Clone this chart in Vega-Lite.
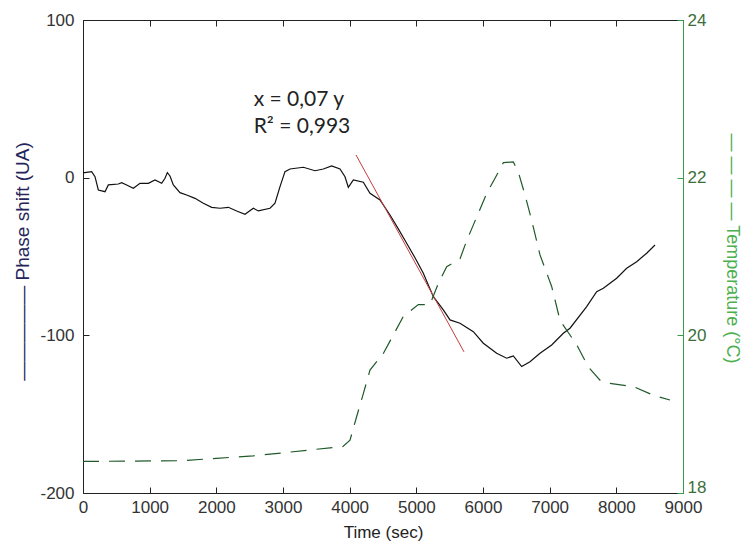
{
  "$schema": "https://vega.github.io/schema/vega-lite/v6.json",
  "width": 600,
  "height": 473,
  "autosize": "none",
  "padding": {"left": 83, "top": 20, "right": 58, "bottom": 50},
  "background": "white",
  "config": {
    "view": {"stroke": "#222222", "strokeWidth": 1},
    "axis": {
      "grid": false,
      "labelFont": "Liberation Sans",
      "titleFont": "Liberation Sans",
      "titleFontWeight": "normal",
      "labelFlush": false,
      "labelOverlap": false,
      "domainWidth": 1,
      "tickWidth": 1
    }
  },
  "datasets": {
    "phase": [
      {"t": 0, "p": 3}, {"t": 130, "p": 3.8}, {"t": 180, "p": 0.6}, {"t": 230, "p": -7.8},
      {"t": 330, "p": -8.9}, {"t": 380, "p": -4.6}, {"t": 530, "p": -4.0}, {"t": 580, "p": -3.2},
      {"t": 655, "p": -4.6}, {"t": 755, "p": -6.7}, {"t": 855, "p": -3.6}, {"t": 980, "p": -3.6},
      {"t": 1080, "p": -1.5}, {"t": 1180, "p": -3.6}, {"t": 1230, "p": -0.4}, {"t": 1265, "p": 3.2},
      {"t": 1305, "p": 1.1}, {"t": 1355, "p": -4.6}, {"t": 1455, "p": -9.5}, {"t": 1555, "p": -11},
      {"t": 1680, "p": -13.1}, {"t": 1805, "p": -16.2}, {"t": 1930, "p": -18.8}, {"t": 2055, "p": -19.4},
      {"t": 2180, "p": -18.8}, {"t": 2305, "p": -21.1}, {"t": 2430, "p": -23.2}, {"t": 2555, "p": -19.4},
      {"t": 2630, "p": -21.1}, {"t": 2805, "p": -19.4}, {"t": 2880, "p": -16.2}, {"t": 2955, "p": -5.7},
      {"t": 3030, "p": 3.8}, {"t": 3105, "p": 5.5}, {"t": 3305, "p": 6.6}, {"t": 3480, "p": 4.4},
      {"t": 3605, "p": 5.5}, {"t": 3730, "p": 7.4}, {"t": 3855, "p": 5.5}, {"t": 3930, "p": 0.6},
      {"t": 3980, "p": -6.1}, {"t": 4055, "p": -1.5}, {"t": 4205, "p": -2.9}, {"t": 4305, "p": -9.9},
      {"t": 4455, "p": -14.1}, {"t": 4605, "p": -23.7}, {"t": 4730, "p": -32.5}, {"t": 4855, "p": -41.6},
      {"t": 4980, "p": -50.8}, {"t": 5105, "p": -60.6}, {"t": 5255, "p": -75.5}, {"t": 5405, "p": -83.9},
      {"t": 5505, "p": -90.2}, {"t": 5655, "p": -92.3}, {"t": 5855, "p": -97.7}, {"t": 6005, "p": -105},
      {"t": 6205, "p": -111.4}, {"t": 6355, "p": -114.5}, {"t": 6455, "p": -113.1}, {"t": 6580, "p": -119.8},
      {"t": 6705, "p": -116.7}, {"t": 6855, "p": -111.4}, {"t": 7030, "p": -106.1}, {"t": 7205, "p": -98.7},
      {"t": 7305, "p": -95.5}, {"t": 7555, "p": -81.8}, {"t": 7705, "p": -72.3}, {"t": 7805, "p": -70.1},
      {"t": 8005, "p": -63.8}, {"t": 8155, "p": -57.5}, {"t": 8305, "p": -53.3}, {"t": 8455, "p": -47.9},
      {"t": 8580, "p": -42.7}
    ],
    "fit": [
      {"t": 4095, "p": 14.4},
      {"t": 5715, "p": -110.5}
    ],
    "notes": [
      {"t": 2560, "p": 49.3, "label": "x = 0,07 y"},
      {"t": 2560, "p": 32.1, "label": "R² = 0,993"}
    ],
    "temp": [
      {"t": 0, "temp": 18.40}, {"t": 1500, "temp": 18.41}, {"t": 2000, "temp": 18.44},
      {"t": 2550, "temp": 18.47}, {"t": 3000, "temp": 18.51}, {"t": 3450, "temp": 18.55},
      {"t": 3900, "temp": 18.59}, {"t": 4005, "temp": 18.67}, {"t": 4105, "temp": 18.97},
      {"t": 4205, "temp": 19.26}, {"t": 4305, "temp": 19.56}, {"t": 4505, "temp": 19.77},
      {"t": 4805, "temp": 20.24}, {"t": 5030, "temp": 20.39}, {"t": 5205, "temp": 20.39},
      {"t": 5330, "temp": 20.66}, {"t": 5455, "temp": 20.87}, {"t": 5655, "temp": 20.97},
      {"t": 5755, "temp": 21.2}, {"t": 5905, "temp": 21.5}, {"t": 6055, "temp": 21.8},
      {"t": 6205, "temp": 22.03}, {"t": 6305, "temp": 22.19}, {"t": 6455, "temp": 22.2},
      {"t": 6530, "temp": 22.07}, {"t": 6630, "temp": 21.78}, {"t": 6730, "temp": 21.46},
      {"t": 6855, "temp": 21.02}, {"t": 7030, "temp": 20.62}, {"t": 7155, "temp": 20.19},
      {"t": 7405, "temp": 19.88}, {"t": 7580, "temp": 19.6}, {"t": 7755, "temp": 19.43},
      {"t": 7905, "temp": 19.39}, {"t": 8255, "temp": 19.35}, {"t": 8555, "temp": 19.24},
      {"t": 8805, "temp": 19.18}
    ]
  },
  "layer": [
    {
      "data": {"name": "phase"},
      "mark": {"type": "line", "color": "#111111", "strokeWidth": 1.2},
      "encoding": {
        "x": {
          "field": "t", "type": "quantitative",
          "scale": {"domain": [0, 9000], "nice": false, "zero": false},
          "axis": {
            "orient": "bottom",
            "values": [0, 1000, 2000, 3000, 4000, 5000, 6000, 7000, 8000, 9000],
            "format": "d",
            "offset": -6,
            "domain": false,
            "tickSize": 6,
            "tickColor": "#222222",
            "labelPadding": 6,
            "labelFontSize": 17,
            "labelColor": "#333333",
            "title": "Time (sec)",
            "titleFontSize": 17,
            "titleColor": "#222222",
            "titleY": 37
          }
        },
        "y": {
          "field": "p", "type": "quantitative",
          "scale": {"domain": [-200, 100], "nice": false, "zero": false},
          "axis": {
            "orient": "left",
            "values": [-200, -100, 0, 100],
            "labelExpr": "'' + datum.value",
            "offset": -6,
            "domain": false,
            "tickSize": 6,
            "tickColor": "#222222",
            "labelPadding": 9,
            "labelFontSize": 17,
            "labelColor": "#333333",
            "title": "—————   Phase shift (UA)",
            "titleFontSize": 19,
            "titleColor": "#25255a",
            "titleX": -57,
            "titleY": 241
          }
        }
      }
    },
    {
      "data": {"name": "fit"},
      "mark": {"type": "line", "color": "#c63c3c", "strokeWidth": 1},
      "encoding": {
        "x": {"field": "t", "type": "quantitative", "scale": {"domain": [0, 9000], "nice": false, "zero": false}, "axis": null},
        "y": {
          "field": "p", "type": "quantitative",
          "scale": {"domain": [-200, 100], "nice": false, "zero": false},
          "axis": {
            "orient": "right",
            "domain": true,
            "domainColor": "#3d9a4a",
            "ticks": false,
            "labels": false,
            "title": null
          }
        }
      }
    },
    {
      "data": {"name": "notes"},
      "mark": {"type": "text", "align": "left", "baseline": "middle", "font": "Lato", "fontSize": 21, "color": "#222222"},
      "encoding": {
        "x": {"field": "t", "type": "quantitative", "scale": {"domain": [0, 9000], "nice": false, "zero": false}, "axis": null},
        "y": {"field": "p", "type": "quantitative", "scale": {"domain": [-200, 100], "nice": false, "zero": false}, "axis": null},
        "text": {"field": "label"}
      }
    },
    {
      "data": {"name": "temp"},
      "mark": {"type": "line", "color": "#1f5a2a", "strokeWidth": 1.2, "strokeDash": [16, 10]},
      "encoding": {
        "x": {
          "field": "t", "type": "quantitative",
          "scale": {"domain": [0, 9000], "nice": false, "zero": false},
          "axis": {
            "orient": "top",
            "values": [0, 1000, 2000, 3000, 4000, 5000, 6000, 7000, 8000, 9000],
            "labels": false,
            "offset": -6,
            "domain": false,
            "tickSize": 6,
            "tickColor": "#222222",
            "title": null
          }
        },
        "y": {
          "field": "temp", "type": "quantitative",
          "scale": {"domain": [18, 24], "nice": false, "zero": false},
          "axis": {
            "orient": "right",
            "values": [18, 20, 22, 24],
            "offset": -6,
            "domain": false,
            "tickSize": 6,
            "tickColor": "#3d9a4a",
            "labelPadding": 4,
            "labelFontSize": 17,
            "labelColor": "#3c6e3c",
            "labelOffset": {"condition": {"test": "datum.value == 18", "value": -6}, "value": 0},
            "title": "— — — —  Temperature (°C)",
            "titleFontSize": 18,
            "titleColor": "#4caf50",
            "titleX": 45,
            "titleY": 228
          }
        }
      }
    }
  ],
  "resolve": {"scale": {"y": "independent"}, "axis": {"x": "independent", "y": "independent"}}
}
